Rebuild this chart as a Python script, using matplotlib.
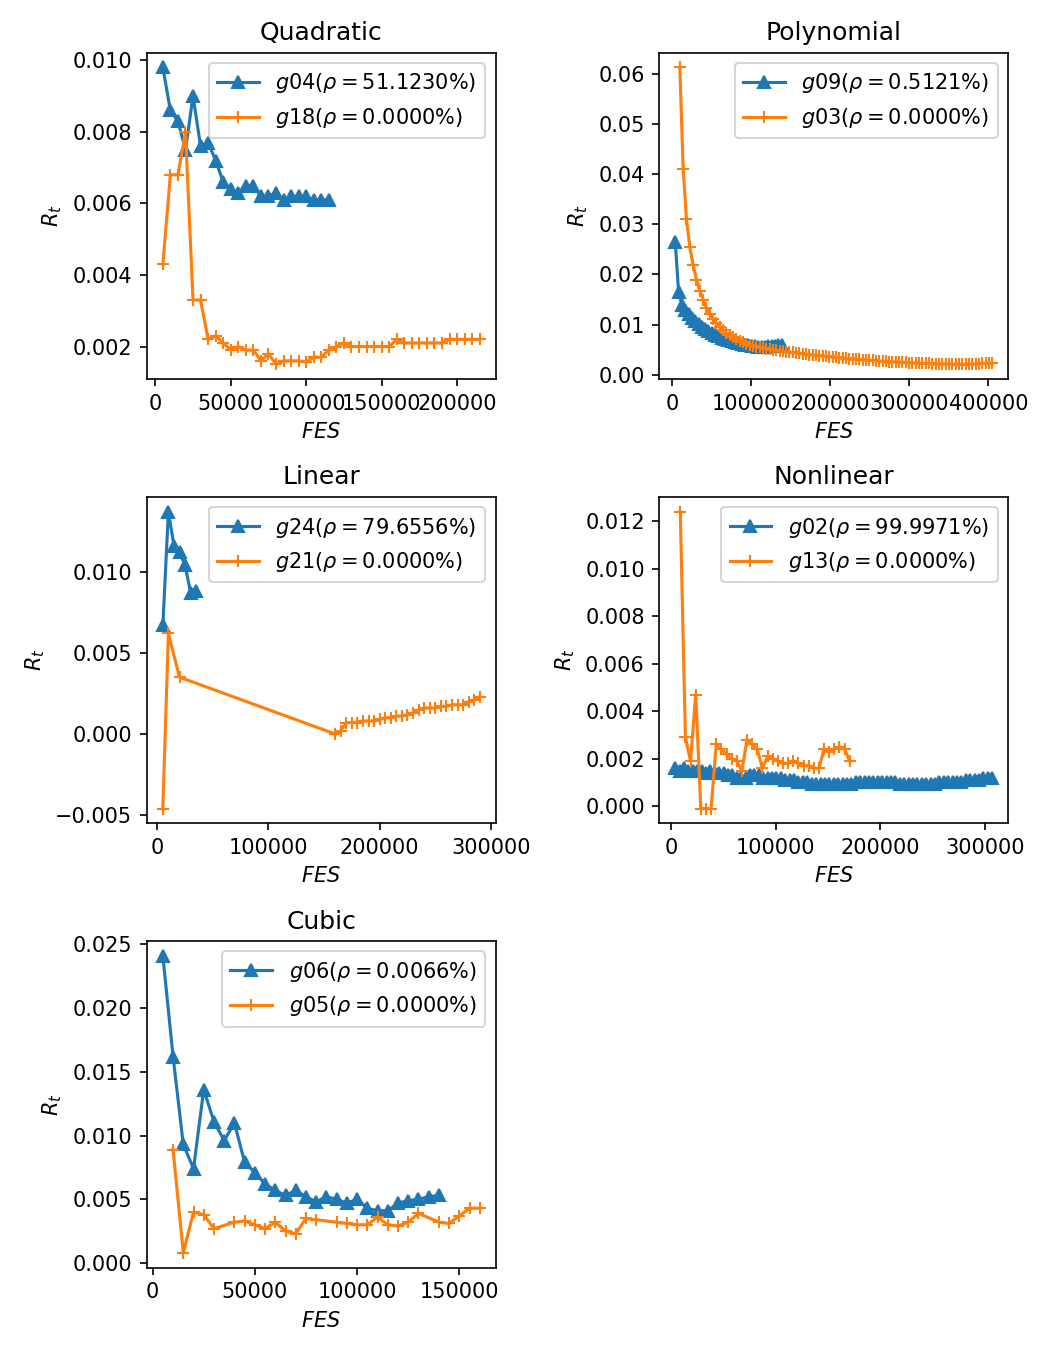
import numpy as np
import matplotlib
matplotlib.use('Agg')
import matplotlib.pyplot as plt

# Quadratic: g04 vs g18
quad_x1 = np.arange(5000, 115001, 5000)
quad_y1 = [0.0098, 0.0086, 0.0083, 0.0075, 0.0090, 0.0076, 0.0077, 0.0072, 0.0066, 0.0064,
           0.0063, 0.0065, 0.0065, 0.0062, 0.0062, 0.0063, 0.0061, 0.0062, 0.0062, 0.0062,
           0.0061, 0.0061, 0.0061]
quad_x2 = np.arange(5000, 215001, 5000)
quad_y2 = [0.0043, 0.0068, 0.0068, 0.0080, 0.0033, 0.0033, 0.0022, 0.0023, 0.0021, 0.0019,
           0.0020, 0.0019, 0.0019, 0.0016, 0.0018, 0.0015, 0.0016, 0.0016, 0.0016, 0.00157,
           0.0017, 0.0017, 0.0019, 0.0020, 0.0021, 0.0020, 0.0020, 0.0020, 0.0020, 0.0020,
           0.0020, 0.0022, 0.0021, 0.0021, 0.0021, 0.0021, 0.0021, 0.0021, 0.0022, 0.0022,
           0.0022, 0.0022, 0.0022]

# Polynomial: g09 vs g03
poly_x1 = np.arange(4200, 138601, 4200)
poly_y1 = [0.0265, 0.0165, 0.0140, 0.0130, 0.0122, 0.0114, 0.0107, 0.0101, 0.0096, 0.0092,
           0.0088, 0.0084, 0.0080, 0.0077, 0.0074, 0.0071, 0.0069, 0.0067, 0.0065, 0.0063,
           0.0062, 0.0060, 0.0059, 0.0058, 0.0057, 0.0056, 0.0056, 0.0056, 0.0057, 0.0057,
           0.0058, 0.0059, 0.0059]
poly_x2 = np.arange(10000, 404801, 4200)
poly_y2 = [0.0612, 0.0410, 0.0310, 0.0255, 0.0218, 0.0190, 0.0168, 0.0150, 0.0134, 0.0122,
           0.0112, 0.0103, 0.0095, 0.0089, 0.0083, 0.0079, 0.0075, 0.0072, 0.0068, 0.0065,
           0.0062, 0.0060, 0.0058, 0.0056, 0.0055, 0.0053, 0.0052, 0.0051, 0.0050, 0.0049,
           0.0048, 0.0047, 0.0046, 0.0045, 0.0045, 0.0044, 0.0043, 0.0042, 0.0041, 0.0040,
           0.0040, 0.0039, 0.0038, 0.0038, 0.0037, 0.0036, 0.0036, 0.0035, 0.0034, 0.0033,
           0.0033, 0.0032, 0.0032, 0.0031, 0.0031, 0.0030, 0.0030, 0.0029, 0.0029, 0.0028,
           0.0028, 0.0027, 0.0027, 0.0026, 0.0026, 0.0026, 0.0025, 0.0025, 0.0025, 0.0024,
           0.0024, 0.0024, 0.0023, 0.0023, 0.0023, 0.0023, 0.0022, 0.0022, 0.0022, 0.0022,
           0.0022, 0.0022, 0.0021, 0.0021, 0.0021, 0.0021, 0.0021, 0.0022, 0.0022, 0.0022,
           0.0022, 0.0023, 0.0023, 0.0023, 0.0023]

# Linear: g24 vs g21
lin_x1 = [5000, 10000, 15000, 20000, 25000, 30000, 35000]
lin_y1 = [0.0067, 0.0137, 0.0116, 0.0112, 0.0104, 0.0087, 0.0088]
lin_x2 = [5000, 10000, 20000] + list(range(160000, 290001, 5000))
lin_y2 = [-0.0046, 0.0062, 0.0035,
          0.0000, 0.0002, 0.0007, 0.0007, 0.0007, 0.0008, 0.0008, 0.0008, 0.0009, 0.0010,
          0.0010, 0.0011, 0.0011, 0.0012, 0.0013, 0.0015, 0.0016, 0.0016, 0.0016, 0.0017,
          0.0017, 0.0018, 0.0018, 0.0018, 0.0020, 0.0021, 0.0023]

# Nonlinear: g02 vs g13
nl_x1 = np.arange(4200, 306601, 4200)
nl_y1 = [0.0016, 0.0015, 0.0016, 0.0015, 0.0015, 0.0015, 0.0015, 0.0014, 0.0015, 0.0014,
         0.0014, 0.0014, 0.0013, 0.0013, 0.0012, 0.0012, 0.0012, 0.0013, 0.0013, 0.0013,
         0.0012, 0.0012, 0.0012, 0.0012, 0.0012, 0.0011, 0.0011, 0.0011, 0.0010, 0.0010,
         0.0010, 0.00095, 0.00095, 0.00095, 0.00095, 0.00095, 0.00095, 0.00095, 0.00095, 0.00095,
         0.00095, 0.0010, 0.0010, 0.0010, 0.0010, 0.0010, 0.0010, 0.0010, 0.0010, 0.0010,
         0.0010, 0.00095, 0.00095, 0.00095, 0.00095, 0.00095, 0.00095, 0.00095, 0.00095, 0.00095,
         0.0010, 0.0010, 0.0010, 0.0010, 0.0010, 0.0010, 0.0011, 0.0011, 0.0011, 0.0011,
         0.0012, 0.0012, 0.0012]
nl_x2 = np.arange(9000, 171000, 4900)
nl_y2 = [0.0124, 0.0029, 0.0019, 0.0047, -0.0001, -0.0001, -0.0001, 0.0026, 0.0024, 0.0022,
         0.0020, 0.0019, 0.0015, 0.0028, 0.0026, 0.0024, 0.0016, 0.0021, 0.0020, 0.0019,
         0.0018, 0.0018, 0.0019, 0.0018, 0.0017, 0.0017, 0.0016, 0.0016, 0.0024, 0.0023,
         0.0024, 0.0025, 0.0024, 0.0019]

# Cubic: g06 vs g05
cub_x1 = np.arange(5000, 140001, 5000)
cub_y1 = [0.0241, 0.0162, 0.0093, 0.0074, 0.0136, 0.0111, 0.0096, 0.0110, 0.0079, 0.0071,
          0.0062, 0.0057, 0.0053, 0.0057, 0.0052, 0.0048, 0.0052, 0.0050, 0.0047, 0.0050,
          0.0043, 0.0041, 0.0041, 0.0047, 0.0049, 0.0050, 0.0052, 0.0053]
cub_x2 = [10000, 15000, 20000, 25000, 30000, 40000, 45000, 50000, 55000, 60000,
          65000, 70000, 75000, 80000, 90000, 95000, 100000, 105000, 110000, 115000,
          120000, 125000, 130000, 140000, 145000, 150000, 155000, 160000]
cub_y2 = [0.0089, 0.0008, 0.0040, 0.0038, 0.0027, 0.0032, 0.0033, 0.0030, 0.0027, 0.0032,
          0.0025, 0.0023, 0.0035, 0.0034, 0.0032, 0.0031, 0.0030, 0.0030, 0.0036, 0.0030,
          0.0029, 0.0032, 0.0039, 0.0032, 0.0031, 0.0037, 0.0043, 0.0043]

panels = [
    ('Quadratic', quad_x1, quad_y1, 'g04', '51.1230', quad_x2, quad_y2, 'g18', '0.0000'),
    ('Polynomial', poly_x1, poly_y1, 'g09', '0.5121', poly_x2, poly_y2, 'g03', '0.0000'),
    ('Linear', lin_x1, lin_y1, 'g24', '79.6556', lin_x2, lin_y2, 'g21', '0.0000'),
    ('Nonlinear', nl_x1, nl_y1, 'g02', '99.9971', nl_x2, nl_y2, 'g13', '0.0000'),
    ('Cubic', cub_x1, cub_y1, 'g06', '0.0066', cub_x2, cub_y2, 'g05', '0.0000'),
]

fig, axes = plt.subplots(3, 2, figsize=(7, 9), dpi=150)
fig.subplots_adjust(left=0.14, right=0.96, top=0.961, bottom=0.061, wspace=0.47, hspace=0.36)

for ax, (title, x1, y1, n1, r1, x2, y2, n2, r2) in zip(axes.flat, panels):
    ax.plot(x1, y1, '^-', label=r'$%s(\rho=%s\%%)$' % (n1, r1))
    ax.plot(x2, y2, '+-', label=r'$%s(\rho=%s\%%)$' % (n2, r2))
    ax.set_title(title)
    ax.set_xlabel(r'$FES$')
    ax.set_ylabel(r'$R_t$')
    ax.legend(loc='upper right')

axes[2, 1].axis('off')

plt.savefig('out.png', dpi=150)
